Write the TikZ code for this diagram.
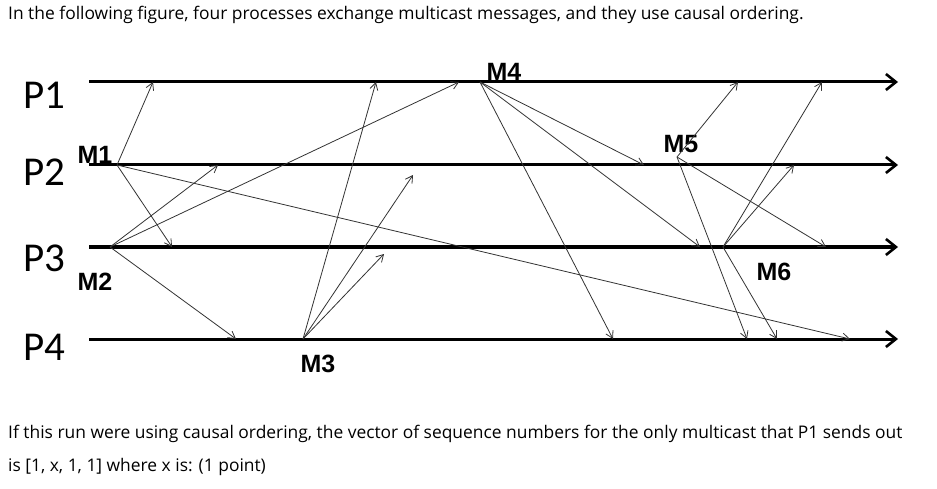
\documentclass[tikz,border=0pt]{standalone}
\usepackage{fontspec}
\setmainfont{Open Sans}
\newfontfamily\pfont{Carlito}
\newfontfamily\mfont{Liberation Sans}
\usetikzlibrary{arrows.meta}
\begin{document}
\begin{tikzpicture}[x=1pt,y=-1pt,
  tl/.style={line width=3pt,-{Straight Barb[length=10pt,width=16pt,line width=2.6pt]}},
  msg/.style={draw=black!80,line width=0.8pt,-{Straight Barb[length=7pt,width=8pt,line width=0.8pt]}},
  plab/.style={font=\pfont\fontsize{41}{41}\selectfont,anchor=west,inner sep=0},
  mlab/.style={font=\mfont\bfseries\fontsize{25}{25}\selectfont,inner sep=0},
  txt/.style={font=\fontsize{17.4}{33}\selectfont,anchor=west,inner sep=0,align=left}]
\useasboundingbox (0,0) rectangle (937,489);
\node[txt] (top) at (8,15) {In the following figure, four processes exchange multicast messages, and they use causal ordering.};
\node[txt,anchor=base west] (bot) at (8,471) {If this run were using causal ordering, the vector of sequence numbers for the only multicast that P1 sends out\\is [1, x, 1, 1] where x is: (1 point)};
% process lines
\foreach \i/\y in {1/82,2/165,3/247,4/339}{
  \coordinate (s\i) at (89,\y);
  \coordinate (e\i) at (898,\y);
  \draw[tl] (s\i) -- (e\i);
}
\node[plab] (p1) at (23,95) {P1};
\node[plab] (p2) at (23,172) {P2};
\node[plab] (p3) at (23,258) {P3};
\node[plab] (p4) at (23,347) {P4};
% labels
\node[mlab] (m1) at (95,155) {M1};
\node[mlab] (m2) at (95,282) {M2};
\node[mlab] (m3) at (318,364) {M3};
\node[mlab] (m4) at (504,72) {M4};
\node[mlab] (m5) at (681,144) {M5};
\node[mlab] (m6) at (774,272) {M6};
% events
\coordinate (M1) at (117,165);
\coordinate (M2) at (110,247);
\coordinate (M3) at (303,339);
\coordinate (M4) at (480,82);
\coordinate (M5) at (677,157);
\coordinate (M6) at (723,247);
% receive points
\coordinate (a1) at (153,82); \coordinate (a2) at (172,247); \coordinate (a3) at (850,339);
\coordinate (b1) at (218,165); \coordinate (b2) at (459,82); \coordinate (b3) at (236,339);
\coordinate (c1) at (376,82); \coordinate (c2) at (413,175); \coordinate (c3) at (384,254);
\coordinate (d1) at (644,165); \coordinate (d2) at (700,247); \coordinate (d3) at (613,339);
\coordinate (f1) at (738,82); \coordinate (f2) at (826,247); \coordinate (f3) at (747,339);
\coordinate (g1) at (822,82); \coordinate (g2) at (794,165); \coordinate (g3) at (777,339);
\foreach \s/\r in {M1/a1,M1/a2,M1/a3,M2/b1,M2/b2,M2/b3,M3/c1,M3/c2,M3/c3,M4/d1,M4/d2,M4/d3,M5/f1,M5/f2,M5/f3,M6/g1,M6/g2,M6/g3}
  \draw[msg] (\s) -- (\r);
\end{tikzpicture}
\end{document}
